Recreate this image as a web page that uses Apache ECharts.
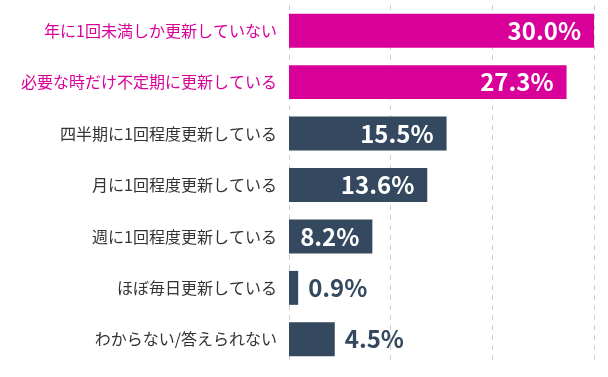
<!DOCTYPE html>
<html>
<head>
<meta charset="utf-8">
<script src="https://cdn.jsdelivr.net/npm/echarts@6/dist/echarts.min.js"></script>
<style>
  html, body { margin: 0; padding: 0; background: #fff; }
  #chart { width: 608px; height: 377px; }
</style>
</head>
<body>
<div id="chart"></div>
<script>
  // 上から順
  var categories = [
    '年に1回未満しか更新していない',
    '必要な時だけ不定期に更新している',
    '四半期に1回程度更新している',
    '月に1回程度更新している',
    '週に1回程度更新している',
    'ほぼ毎日更新している',
    'わからない/答えられない'
  ];
  var values = [30.0, 27.3, 15.5, 13.6, 8.2, 0.9, 4.5];
  var highlighted = [0, 1]; // 強調する項目
  var xTicks = [0, 10, 20, 30];

  var pink = '#d9009a';
  var navy = '#34495f';
  var font = '"Noto Sans CJK JP", "Noto Sans", sans-serif';

  var chart = echarts.init(document.getElementById('chart'));

  var seriesData = values.map(function (v, i) {
    var hi = highlighted.indexOf(i) >= 0;
    var inside = v >= 8;
    return {
      value: v,
      itemStyle: { color: hi ? pink : navy },
      label: {
        position: inside ? 'insideRight' : 'right',
        distance: inside ? 13 : 10,
        color: inside ? '#fff' : navy
      }
    };
  });

  chart.setOption({
    animation: false,
    grid: {
      left: 289,
      right: 14,
      top: 5,
      bottom: 12
    },
    xAxis: {
      type: 'value',
      min: xTicks[0],
      max: xTicks[xTicks.length - 1],
      interval: 10,
      axisLabel: { show: false },
      axisLine: { show: false },
      axisTick: { show: false },
      splitLine: {
        show: true,
        lineStyle: { type: [5, 5], color: '#cfcfcf', width: 1 }
      }
    },
    yAxis: {
      type: 'category',
      inverse: true,
      data: categories,
      axisLine: { show: false },
      axisTick: { show: false },
      axisLabel: {
        margin: 12,
        fontFamily: font,
        fontSize: 16,
        color: function (val, idx) {
          return highlighted.indexOf(idx) >= 0 ? pink : '#333';
        }
      }
    },
    series: [{
      type: 'bar',
      barWidth: '66%',
      data: seriesData,
      label: {
        show: true,
        fontFamily: font,
        fontWeight: 'bold',
        fontSize: 24,
        formatter: function (p) { return p.value.toFixed(1) + '%'; }
      }
    }]
  });
</script>
</body>
</html>
